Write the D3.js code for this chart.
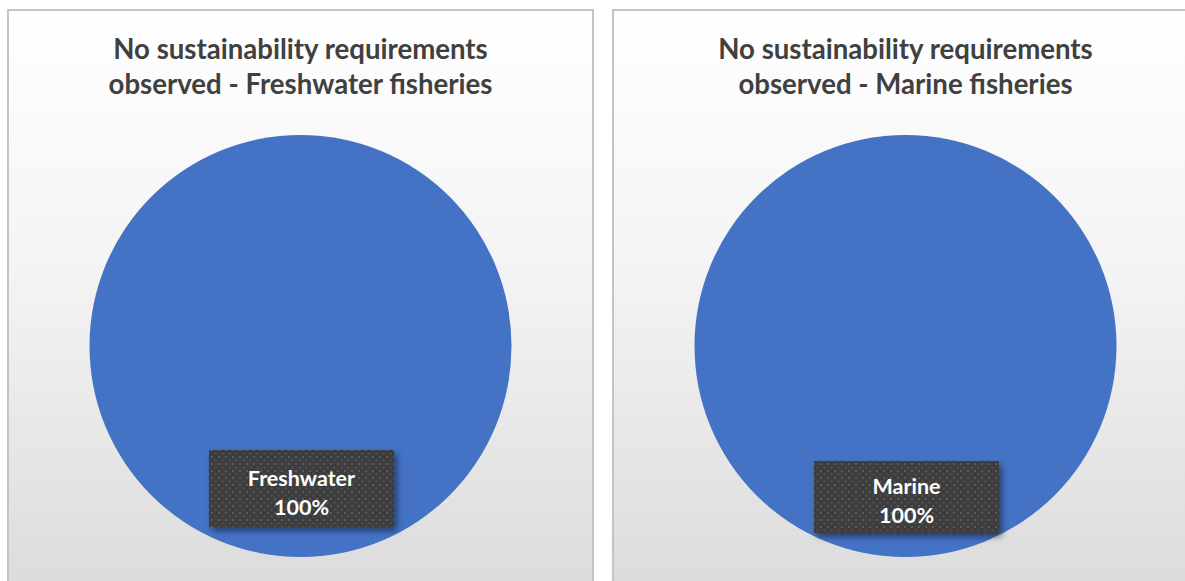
<!DOCTYPE html>
<html>
<head>
<meta charset="utf-8">
<script src="https://cdn.jsdelivr.net/npm/d3@7"></script>
<style>
  html, body { margin: 0; padding: 0; background: #ffffff; }
  svg { display: block; }
</style>
</head>
<body>
<svg id="chart" width="1185" height="581"></svg>
<script>
// Chart data
const titles = [
  ["No sustainability requirements", "observed - Freshwater fisheries"],
  ["No sustainability requirements", "observed - Marine fisheries"]
];
const freshwaterCategories = ["Freshwater"];
const freshwaterValues = [100];
const marineCategories = ["Marine"];
const marineValues = [100];

const panels = [
  { x: 8, titleLines: titles[0], categories: freshwaterCategories, values: freshwaterValues, labelBox: { x: 209, y: 450, w: 185, h: 77 } },
  { x: 613, titleLines: titles[1], categories: marineCategories, values: marineValues, labelBox: { x: 814, y: 461, w: 185, h: 72 } }
];

const svg = d3.select("#chart");
const defs = svg.append("defs");

// Panel background: white fading to light grey
const grad = defs.append("linearGradient").attr("id", "panelBg")
  .attr("x1", 0).attr("y1", 0).attr("x2", 0).attr("y2", 1);
grad.append("stop").attr("offset", "0%").attr("stop-color", "#ffffff");
grad.append("stop").attr("offset", "45%").attr("stop-color", "#f3f3f3");
grad.append("stop").attr("offset", "100%").attr("stop-color", "#dadada");

// Dotted dark fill for the data label boxes
const pat = defs.append("pattern").attr("id", "dots")
  .attr("patternUnits", "userSpaceOnUse").attr("width", 7).attr("height", 7);
pat.append("rect").attr("width", 7).attr("height", 7).attr("fill", "#3d3d3d");
pat.append("rect").attr("x", 1).attr("y", 1).attr("width", 2).attr("height", 2).attr("fill", "#5a5a5a");
pat.append("rect").attr("x", 4.5).attr("y", 4.5).attr("width", 2).attr("height", 2).attr("fill", "#4f4f4f");

// Soft drop shadow for label boxes
const shadow = defs.append("filter").attr("id", "boxShadow")
  .attr("x", "-10%").attr("y", "-10%").attr("width", "130%").attr("height", "140%");
shadow.append("feDropShadow").attr("dx", 3).attr("dy", 4).attr("stdDeviation", 3)
  .attr("flood-color", "#000").attr("flood-opacity", 0.45);

const panelW = 585, panelH = 600;
const radius = 211;
const pieCy = 346;

panels.forEach(p => {
  const g = svg.append("g");

  g.append("rect")
    .attr("x", p.x).attr("y", 10)
    .attr("width", panelW).attr("height", panelH)
    .attr("fill", "url(#panelBg)")
    .attr("stroke", "#c4c4c4").attr("stroke-width", 2);

  const cx = p.x + panelW / 2;

  // Title
  const title = g.append("text")
    .attr("x", cx).attr("y", 59)
    .attr("text-anchor", "middle")
    .attr("font-family", "Lato, 'Open Sans', sans-serif")
    .attr("font-weight", "bold")
    .attr("font-size", 27.6)
    .attr("fill", "#404040");
  p.titleLines.forEach((line, i) => {
    title.append("tspan").attr("x", cx).attr("dy", i === 0 ? 0 : 35).text(line);
  });

  // Pie
  const pie = d3.pie().sort(null).value(d => d.value);
  const arc = d3.arc().innerRadius(0).outerRadius(radius);
  const data = p.categories.map((c, i) => ({ category: c, value: p.values[i] }));
  const total = d3.sum(data, d => d.value);

  g.append("g").attr("transform", `translate(${cx},${pieCy})`)
    .selectAll("path")
    .data(pie(data))
    .join("path")
    .attr("d", arc)
    .attr("fill", "#4472c4");

  // Data label
  const b = p.labelBox;
  g.append("rect")
    .attr("x", b.x).attr("y", b.y).attr("width", b.w).attr("height", b.h)
    .attr("fill", "url(#dots)")
    .attr("filter", "url(#boxShadow)");

  const d0 = data[0];
  const lbl = g.append("text")
    .attr("text-anchor", "middle")
    .attr("font-family", "Lato, 'Open Sans', sans-serif")
    .attr("font-weight", "bold")
    .attr("font-size", 21.5)
    .attr("fill", "#ffffff");
  const lx = b.x + b.w / 2;
  lbl.append("tspan").attr("x", lx).attr("y", b.y + b.h / 2 - 3).text(d0.category);
  lbl.append("tspan").attr("x", lx).attr("y", b.y + b.h / 2 + 26)
    .text(d3.format(".0%")(d0.value / total));
});
</script>
</body>
</html>
